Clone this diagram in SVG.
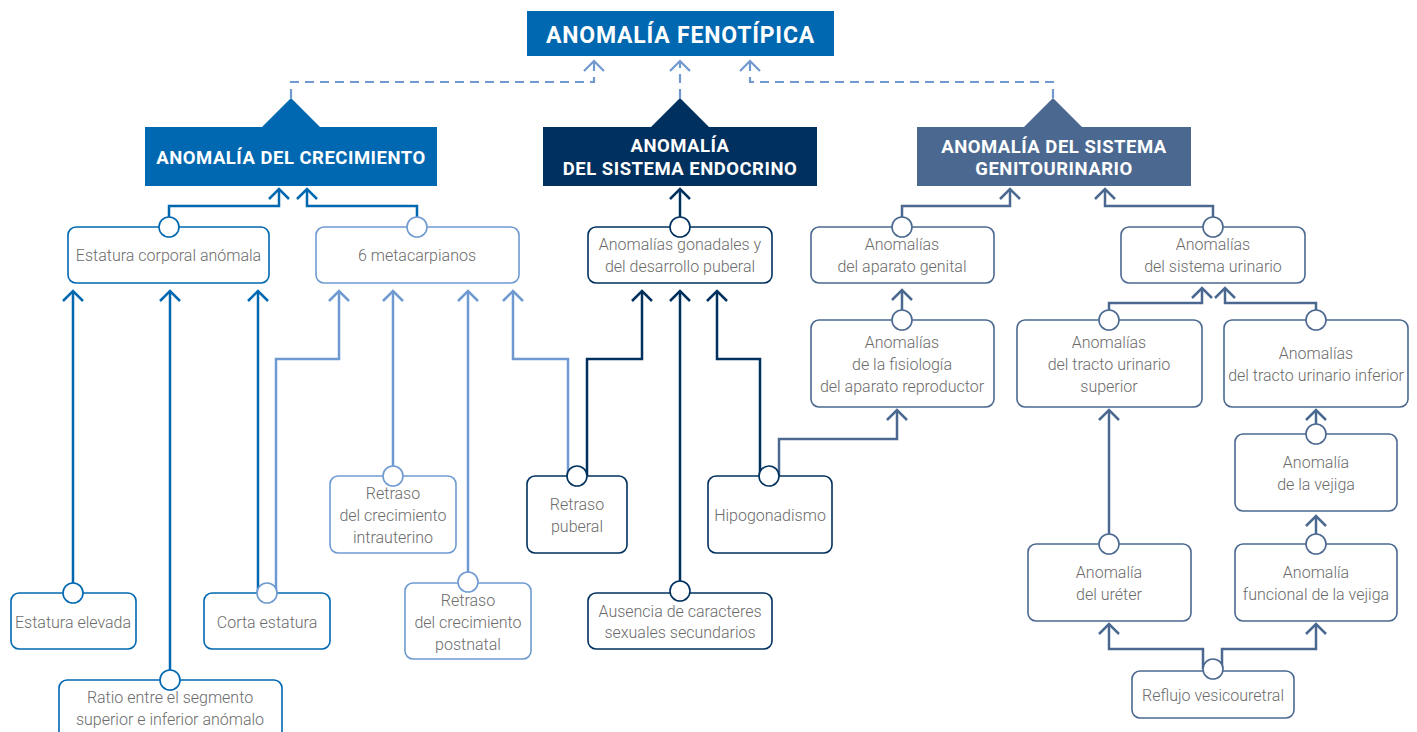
<svg xmlns="http://www.w3.org/2000/svg" width="1417" height="732" viewBox="0 0 1417 732">
<style>
.t{font-family:Roboto,"Liberation Sans",sans-serif;font-weight:300;font-size:16px;fill:#6b6b6b;text-anchor:middle}
.h{font-family:Roboto,"Liberation Sans",sans-serif;font-weight:700;fill:#fff;text-anchor:middle;font-size:18.5px;letter-spacing:0.5px}
.c1{fill:none;stroke:#0068b0;stroke-width:2.5}
.c2{fill:none;stroke:#6f9ad1;stroke-width:2.5}
.c3{fill:none;stroke:#00305e;stroke-width:2.5}
.c4{fill:none;stroke:#4b6990;stroke-width:2.5}
.c5{fill:none;stroke:#7099cf;stroke-width:2.2;stroke-dasharray:9 6}
.b1{fill:#fff;stroke:#0068b0;stroke-width:1.6}
.b2{fill:#fff;stroke:#6f9ad1;stroke-width:1.6}
.b3{fill:#fff;stroke:#00305e;stroke-width:1.6}
.b4{fill:#fff;stroke:#4b6990;stroke-width:1.6}
</style>
<defs>
<marker id="a1" viewBox="-12 -12 24 24" refX="0" refY="0" markerWidth="24" markerHeight="24" markerUnits="userSpaceOnUse" orient="auto"><path d="M-10,-10 L0,0 L-10,10" fill="none" stroke="#0068b0" stroke-width="2.5"/></marker>
<marker id="a2" viewBox="-12 -12 24 24" refX="0" refY="0" markerWidth="24" markerHeight="24" markerUnits="userSpaceOnUse" orient="auto"><path d="M-10,-10 L0,0 L-10,10" fill="none" stroke="#6f9ad1" stroke-width="2.5"/></marker>
<marker id="a3" viewBox="-12 -12 24 24" refX="0" refY="0" markerWidth="24" markerHeight="24" markerUnits="userSpaceOnUse" orient="auto"><path d="M-10,-10 L0,0 L-10,10" fill="none" stroke="#00305e" stroke-width="2.5"/></marker>
<marker id="a4" viewBox="-12 -12 24 24" refX="0" refY="0" markerWidth="24" markerHeight="24" markerUnits="userSpaceOnUse" orient="auto"><path d="M-10,-10 L0,0 L-10,10" fill="none" stroke="#4b6990" stroke-width="2.5"/></marker>
<marker id="a5" viewBox="-12 -12 24 24" refX="0" refY="0" markerWidth="24" markerHeight="24" markerUnits="userSpaceOnUse" orient="auto"><path d="M-10,-10 L0,0 L-10,10" fill="none" stroke="#7099cf" stroke-width="2.2"/></marker>
</defs>

<g id="connectors">
<path class="c5" d="M291,98 V82 H594 V61" marker-end="url(#a5)"/>
<path class="c5" d="M680,98 V61" marker-end="url(#a5)"/>
<path class="c5" d="M1053,98 V82 H750 V61" marker-end="url(#a5)"/>

<path class="c1" d="M169,227 V206 H279 V189" marker-end="url(#a1)"/>
<path class="c1" d="M417,227 V206 H307 V189" marker-end="url(#a1)"/>
<path class="c1" d="M73,593 V291" marker-end="url(#a1)"/>
<path class="c1" d="M170,680 V291" marker-end="url(#a1)"/>
<path class="c1" d="M258,593 V291" marker-end="url(#a1)"/>
<path class="c2" d="M276,593 V359 H339 V291" marker-end="url(#a2)"/>
<path class="c2" d="M393,476 V291" marker-end="url(#a2)"/>
<path class="c2" d="M468,582 V291" marker-end="url(#a2)"/>
<path class="c2" d="M568,476 V359 H513 V291" marker-end="url(#a2)"/>

<path class="c3" d="M680,227 V189" marker-end="url(#a3)"/>
<path class="c3" d="M587,476 V359 H642 V291" marker-end="url(#a3)"/>
<path class="c3" d="M680,591 V291" marker-end="url(#a3)"/>
<path class="c3" d="M760,476 V359 H717 V291" marker-end="url(#a3)"/>

<path class="c4" d="M779,476 V439 H897 V410" marker-end="url(#a4)"/>
<path class="c4" d="M902,227 V206 H1010 V189" marker-end="url(#a4)"/>
<path class="c4" d="M902,320 V290" marker-end="url(#a4)"/>
<path class="c4" d="M1213,227 V206 H1105 V189" marker-end="url(#a4)"/>
<path class="c4" d="M1109,320 V303 H1202 V288" marker-end="url(#a4)"/>
<path class="c4" d="M1316,320 V303 H1225 V288" marker-end="url(#a4)"/>
<path class="c4" d="M1109,544 V410" marker-end="url(#a4)"/>
<path class="c4" d="M1316,434 V410" marker-end="url(#a4)"/>
<path class="c4" d="M1316,544 V516" marker-end="url(#a4)"/>
<path class="c4" d="M1203,669 V649 H1109 V624" marker-end="url(#a4)"/>
<path class="c4" d="M1222,669 V649 H1316 V624" marker-end="url(#a4)"/>
</g>

<g id="n-top">
<rect x="527" y="11" width="307" height="45" fill="#0068b0"/>
<text class="h" x="680.5" y="43" style="font-size:23px;letter-spacing:0.8px">ANOMALÍA FENOTÍPICA</text>
</g>
<g id="n-crecimiento">
<path d="M261,128 L291,98 L321,128 Z" fill="#0068b0"/>
<rect x="145" y="127" width="292" height="59" fill="#0068b0"/>
<text class="h" x="291" y="164">ANOMALÍA DEL CRECIMIENTO</text>
</g>
<g id="n-endocrino">
<path d="M650,128 L680,98 L710,128 Z" fill="#00305e"/>
<rect x="543" y="127" width="274" height="59" fill="#00305e"/>
<text class="h" x="680" y="152">ANOMALÍA</text>
<text class="h" x="680" y="175">DEL SISTEMA ENDOCRINO</text>
</g>
<g id="n-genito">
<path d="M1023,128 L1053,98 L1083,128 Z" fill="#4b6990"/>
<rect x="917" y="127" width="274" height="59" fill="#4b6990"/>
<text class="h" x="1054" y="153">ANOMALÍA DEL SISTEMA</text>
<text class="h" x="1054" y="175">GENITOURINARIO</text>
</g>

<g id="n-estatura-corporal">
<rect class="b1" x="68" y="227" width="201" height="56" rx="8"/>
<circle class="b1" cx="169" cy="227" r="10"/>
<text class="t" x="168.5" y="260.5">Estatura corporal anómala</text>
</g>
<g id="n-metacarpianos">
<rect class="b2" x="316" y="227" width="203" height="56" rx="8"/>
<circle class="b2" cx="417" cy="227" r="10"/>
<text class="t" x="417" y="260.5">6 metacarpianos</text>
</g>
<g id="n-estatura-elevada">
<rect class="b1" x="11" y="593" width="125" height="56" rx="8"/>
<circle class="b1" cx="73" cy="593" r="10"/>
<text class="t" x="73" y="627.5">Estatura elevada</text>
</g>
<g id="n-corta-estatura">
<rect class="b1" x="204" y="593" width="126" height="56" rx="8"/>
<circle class="b2" cx="267" cy="593" r="10"/>
<text class="t" x="267" y="627.5">Corta estatura</text>
</g>
<g id="n-ratio">
<rect class="b1" x="59" y="680" width="223" height="70" rx="8"/>
<circle class="b1" cx="170" cy="680" r="10"/>
<text class="t" x="170" y="702.5">Ratio entre el segmento</text>
<text class="t" x="170" y="724.5">superior e inferior anómalo</text>
</g>
<g id="n-intrauterino">
<rect class="b2" x="330" y="476" width="126" height="77" rx="8"/>
<circle class="b2" cx="393" cy="476" r="10"/>
<text class="t" x="393" y="498.5">Retraso</text>
<text class="t" x="393" y="520.5">del crecimiento</text>
<text class="t" x="393" y="542.5">intrauterino</text>
</g>
<g id="n-postnatal">
<rect class="b2" x="405" y="583" width="126" height="76" rx="8"/>
<circle class="b2" cx="468" cy="582" r="10"/>
<text class="t" x="468" y="605.5">Retraso</text>
<text class="t" x="468" y="627.5">del crecimiento</text>
<text class="t" x="468" y="649.5">postnatal</text>
</g>

<g id="n-gonadales">
<rect class="b3" x="588" y="227" width="184" height="56" rx="8"/>
<circle class="b3" cx="680" cy="227" r="10"/>
<text class="t" x="680" y="249.5">Anomalías gonadales y</text>
<text class="t" x="680" y="271.5">del desarrollo puberal</text>
</g>
<g id="n-retraso-puberal">
<rect class="b3" x="527" y="476" width="100" height="77" rx="8"/>
<circle class="b3" cx="577" cy="476" r="10"/>
<text class="t" x="577" y="509.5">Retraso</text>
<text class="t" x="577" y="531.5">puberal</text>
</g>
<g id="n-hipogonadismo">
<rect class="b3" x="708" y="476" width="124" height="77" rx="8"/>
<circle class="b3" cx="769" cy="476" r="10"/>
<text class="t" x="770" y="520.5">Hipogonadismo</text>
</g>
<g id="n-ausencia">
<rect class="b3" x="588" y="593" width="184" height="56" rx="8"/>
<circle class="b3" cx="680" cy="591" r="10"/>
<text class="t" x="680" y="616.5">Ausencia de caracteres</text>
<text class="t" x="680" y="637.5">sexuales secundarios</text>
</g>

<g id="n-aparato-genital">
<rect class="b4" x="811" y="227" width="183" height="56" rx="8"/>
<circle class="b4" cx="902" cy="227" r="10"/>
<text class="t" x="902" y="249.5">Anomalías</text>
<text class="t" x="902" y="271.5">del aparato genital</text>
</g>
<g id="n-fisiologia">
<rect class="b4" x="811" y="320" width="183" height="87" rx="8"/>
<circle class="b4" cx="902" cy="320" r="10"/>
<text class="t" x="902" y="347.5">Anomalías</text>
<text class="t" x="902" y="369.5">de la fisiología</text>
<text class="t" x="902" y="391.5">del aparato reproductor</text>
</g>
<g id="n-sistema-urinario">
<rect class="b4" x="1121" y="227" width="184" height="56" rx="8"/>
<circle class="b4" cx="1213" cy="227" r="10"/>
<text class="t" x="1213" y="249.5">Anomalías</text>
<text class="t" x="1213" y="271.5">del sistema urinario</text>
</g>
<g id="n-tracto-superior">
<rect class="b4" x="1017" y="320" width="185" height="87" rx="8"/>
<circle class="b4" cx="1109" cy="320" r="10"/>
<text class="t" x="1109" y="347.5">Anomalías</text>
<text class="t" x="1109" y="369.5">del tracto urinario</text>
<text class="t" x="1109" y="391.5">superior</text>
</g>
<g id="n-tracto-inferior">
<rect class="b4" x="1224" y="320" width="184" height="87" rx="8"/>
<circle class="b4" cx="1316" cy="320" r="10"/>
<text class="t" x="1316" y="358.5">Anomalías</text>
<text class="t" x="1316" y="380.5">del tracto urinario inferior</text>
</g>
<g id="n-vejiga">
<rect class="b4" x="1235" y="434" width="162" height="77" rx="8"/>
<circle class="b4" cx="1316" cy="434" r="10"/>
<text class="t" x="1316" y="467.5">Anomalía</text>
<text class="t" x="1316" y="489.5">de la vejiga</text>
</g>
<g id="n-ureter">
<rect class="b4" x="1028" y="544" width="163" height="77" rx="8"/>
<circle class="b4" cx="1109" cy="544" r="10"/>
<text class="t" x="1109" y="577.5">Anomalía</text>
<text class="t" x="1109" y="599.5">del uréter</text>
</g>
<g id="n-funcional">
<rect class="b4" x="1235" y="544" width="162" height="77" rx="8"/>
<circle class="b4" cx="1316" cy="544" r="10"/>
<text class="t" x="1316" y="577.5">Anomalía</text>
<text class="t" x="1316" y="599.5">funcional de la vejiga</text>
</g>
<g id="n-reflujo">
<rect class="b4" x="1132" y="671" width="162" height="47" rx="8"/>
<circle class="b4" cx="1213" cy="669" r="10"/>
<text class="t" x="1213" y="700.5">Reflujo vesicouretral</text>
</g>
</svg>
